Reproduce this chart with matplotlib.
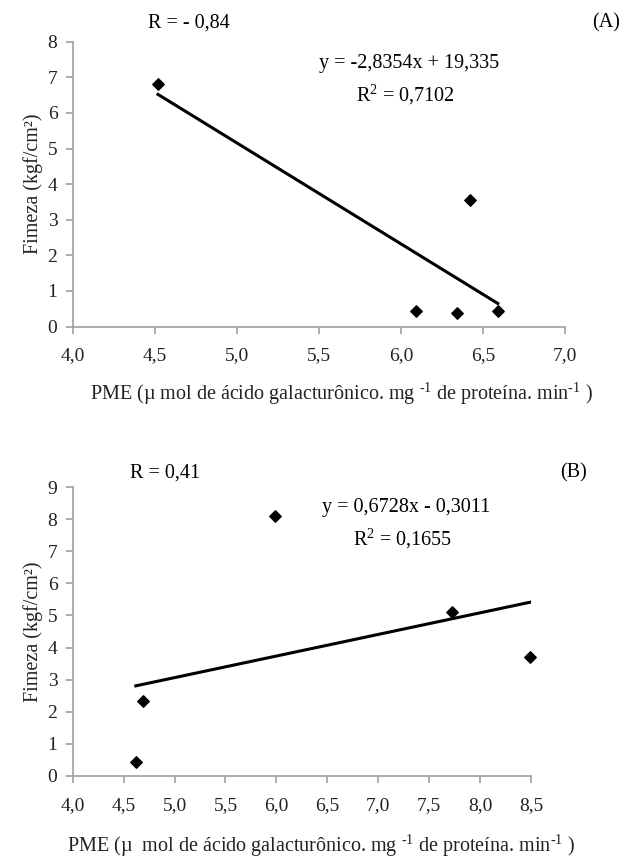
import matplotlib.pyplot as plt

plt.rcParams['font.family'] = ['Liberation Serif', 'DejaVu Serif']
plt.rcParams['mathtext.fontset'] = 'custom'
plt.rcParams['mathtext.rm'] = 'Liberation Serif'
plt.rcParams['mathtext.it'] = 'Liberation Serif:italic'
plt.rcParams['mathtext.default'] = 'rm'

# Panel A data
pme_a = [4.52, 6.09, 6.34, 6.42, 6.59]
firm_a = [6.82, 0.43, 0.38, 3.55, 0.43]
slope_a, icpt_a = -2.8354, 19.335

# Panel B data
pme_b = [4.62, 4.69, 5.99, 7.72, 8.49]
firm_b = [0.45, 2.35, 8.10, 5.12, 3.70]
slope_b, icpt_b = 0.6728, -0.3011

xticks_a = [4.0, 4.5, 5.0, 5.5, 6.0, 6.5, 7.0]
xticks_b = [4.0, 4.5, 5.0, 5.5, 6.0, 6.5, 7.0, 7.5, 8.0, 8.5]

xlab_a = "PME (µ mol de ácido galacturônico. mg $^{\u2010 1}$ de proteína. min$^{\u20101}$ )"
xlab_b = "PME (µ  mol de ácido galacturônico. mg $^{\u2010 1}$ de proteína. min$^{\u20101}$ )"
ylab = "Fimeza (kgf/cm²)"

FS = 14.5

fig = plt.figure(figsize=(6.24, 8.58), dpi=100)
ax_a = fig.add_axes([0.1165, 0.6194, 0.789, 0.332])
ax_b = fig.add_axes([0.1165, 0.0956, 0.7345, 0.3368])


def style(ax, xticks, ymax):
    ax.patch.set_visible(False)
    for s in ['top', 'right']:
        ax.spines[s].set_visible(False)
    for s in ['left', 'bottom']:
        ax.spines[s].set_color('#a0a0a0')
        ax.spines[s].set_linewidth(1.2)
    ax.set_xlim(xticks[0], xticks[-1])
    ax.set_ylim(0, ymax)
    ax.set_xticks(xticks)
    ax.set_xticklabels([f"{t:.1f}".replace('.', ',') for t in xticks])
    ax.set_yticks(range(0, ymax + 1))
    ax.tick_params(colors='#a0a0a0', labelcolor='#222222', labelsize=14,
                   length=5, width=1.2, direction='out')
    ax.tick_params(axis='x', pad=10)
    ax.tick_params(axis='y', pad=6)
    ax.set_ylabel(ylab, fontsize=FS, labelpad=3, color='#222222')


def fit(ax, xs, ys, m, b):
    ax.scatter(xs, ys, marker='D', s=34, color='black', zorder=3, clip_on=False)
    x0, x1 = min(xs), max(xs)
    ax.plot([x0, x1], [m * x0 + b, m * x1 + b], color='black', lw=2.2)


style(ax_a, xticks_a, 8)
fit(ax_a, pme_a, firm_a, slope_a, icpt_a)
ax_a.set_xlabel(xlab_a, fontsize=FS, color='#222222')
ax_a.xaxis.set_label_coords(0.547, -0.19)
ax_a.text(4.71, 8.53, "R = - 0,84", fontsize=FS, ha='center', va='center')
ax_a.text(7.25, 8.53, "(A)", fontsize=FS, ha='center', va='center')
ax_a.text(6.05, 7.40, "y = -2,8354x + 19,335", fontsize=FS, ha='center', va='center')
ax_a.text(6.03, 6.51, "R$^2$ = 0,7102", fontsize=FS, ha='center', va='center')

style(ax_b, xticks_b, 9)
fit(ax_b, pme_b, firm_b, slope_b, icpt_b)
ax_b.set_xlabel(xlab_b, fontsize=FS, color='#222222')
ax_b.xaxis.set_label_coords(0.542, -0.195)
ax_b.text(4.91, 9.44, "R = 0,41", fontsize=FS, ha='center', va='center')
ax_b.text(8.92, 9.44, "(B)", fontsize=FS, ha='center', va='center')
ax_b.text(7.27, 8.35, "y = 0,6728x - 0,3011", fontsize=FS, ha='center', va='center')
ax_b.text(7.24, 7.39, "R$^2$ = 0,1655", fontsize=FS, ha='center', va='center')

fig.savefig('out.png', dpi=100)
